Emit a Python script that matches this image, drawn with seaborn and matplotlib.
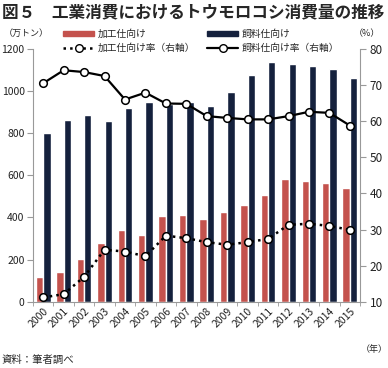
import numpy as np
import pandas as pd
import seaborn as sns
import matplotlib.pyplot as plt
from matplotlib.patches import Patch
from matplotlib.lines import Line2D

# data
years = [str(y) for y in range(2000, 2016)]
processing = [119, 140, 203, 281, 340, 319, 405, 414, 393, 424, 457, 508, 583, 573, 562, 540]
feed = [802, 865, 886, 856, 921, 950, 937, 950, 929, 995, 1078, 1138, 1130, 1119, 1106, 1064]
processing_rate = [11.2, 12.1, 16.9, 24.4, 23.9, 22.6, 28.3, 27.6, 26.5, 25.8, 26.5, 27.4, 31.3, 31.6, 31.0, 29.9]
feed_rate = [70.5, 74.1, 73.6, 72.5, 66.0, 67.9, 64.9, 64.8, 61.4, 60.9, 60.5, 60.5, 61.4, 62.6, 62.3, 58.8]

red = "#c4524d"
navy = "#15213d"

sns.set_style("white")
plt.rcParams["font.family"] = ["Noto Sans CJK JP", "DejaVu Sans"]

bars = pd.DataFrame({
    "year": years * 2,
    "value": processing + feed,
    "use": ["加工仕向け"] * 16 + ["飼料仕向け"] * 16,
})
rates = pd.DataFrame({"year": years, "proc": processing_rate, "feed": feed_rate})

fig = plt.figure(figsize=(3.88, 3.68), dpi=100)
ax = fig.add_axes([0.085, 0.18, 0.843, 0.687])

sns.barplot(data=bars, x="year", y="value", hue="use", palette=[red, navy],
            width=0.72, gap=0, saturation=1, legend=False, ax=ax)
ax.set_ylim(0, 1200)
ax.set_yticks(range(0, 1201, 200))
ax.set_xlim(-0.5, 15.5)

ax2 = ax.twinx()
sns.pointplot(data=rates, x="year", y="feed", color="black", markers="o",
              linestyles="-", markersize=5.5, markerfacecolor="white",
              markeredgewidth=1.1, linewidth=1.6, ax=ax2)
sns.pointplot(data=rates, x="year", y="proc", color="black", markers="o",
              linestyles=":", markersize=5.5, markerfacecolor="white",
              markeredgewidth=1.1, linewidth=1.8, ax=ax2)
ax2.set_ylim(10, 80)
ax2.set_yticks(range(10, 81, 10))
ax2.set_xlim(-0.5, 15.5)

for a in (ax, ax2):
    a.set_xlabel("")
    a.set_ylabel("")
    a.spines["top"].set_visible(False)
    for s in ("left", "right", "bottom"):
        a.spines[s].set_color("#999999")
        a.spines[s].set_linewidth(0.8)
ax.spines["right"].set_visible(False)
ax2.spines["left"].set_visible(False)
ax2.spines["bottom"].set_visible(False)

ax.tick_params(axis="y", left=True, length=4, color="#999999", labelsize=7.5,
               labelcolor="#222222", pad=2)
ax2.tick_params(axis="y", right=True, length=4, color="#999999", labelsize=8.5,
                labelcolor="#222222", pad=3)
ax.set_xticks(range(16))
ax.set_xticklabels(years, rotation=45, ha="right", rotation_mode="anchor",
                   fontsize=7.5, color="#222222")
ax.set_xticks(np.arange(-0.5, 16, 1), minor=True)
ax.tick_params(axis="x", which="major", length=0, pad=3)
ax.tick_params(axis="x", which="minor", bottom=True, length=3, color="#999999")

handles = [
    Patch(color=red),
    Line2D([], [], color="black", linestyle=":", linewidth=1.8, marker="o",
           markersize=5.5, markerfacecolor="white"),
    Patch(color=navy),
    Line2D([], [], color="black", linestyle="-", linewidth=1.6, marker="o",
           markersize=5.5, markerfacecolor="white"),
]
labels = ["加工仕向け", "加工仕向け率（右軸）", "飼料仕向け", "飼料仕向け率（右軸）"]
fig.legend(handles, labels, ncol=2, loc="upper left", bbox_to_anchor=(0.14, 0.945),
           frameon=False, fontsize=7, handlelength=3.2, handleheight=0.5,
           columnspacing=1.2, labelspacing=0.4, handletextpad=0.4)

fig.text(0.005, 0.99, "図５　工業消費におけるトウモロコシ消費量の推移",
         fontsize=12, fontweight="bold", va="top", ha="left")
fig.text(0.01, 0.908, "（万トン）", fontsize=6.5, va="center")
fig.text(0.945, 0.908, "（%）", fontsize=6.5, va="center", ha="center")
fig.text(0.965, 0.05, "（年）", fontsize=6.5, va="center", ha="center")
fig.text(0.005, 0.022, "資料：筆者調べ", fontsize=7.5, va="center")

fig.savefig("out.png", dpi=100)
